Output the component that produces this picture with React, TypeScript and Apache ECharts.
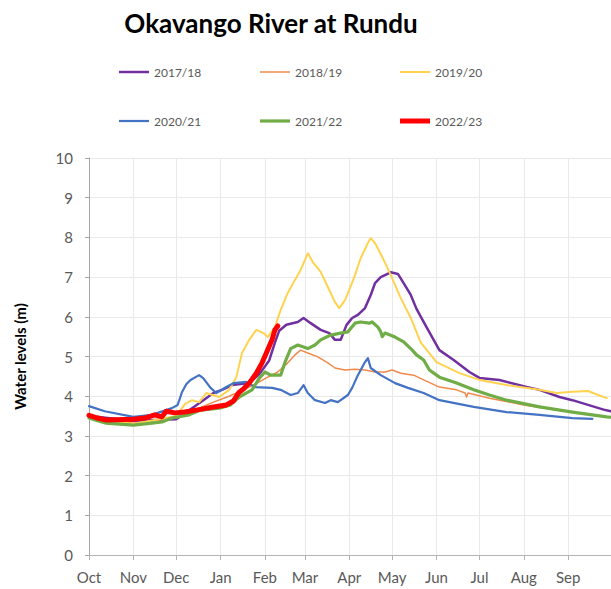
import React, { useEffect, useRef } from "react";
import * as echarts from "echarts";

// ---------- axis definitions ----------
const monthLabels = ["Oct", "Nov", "Dec", "Jan", "Feb", "Mar", "Apr", "May", "Jun", "Jul", "Aug", "Sep"];
const monthLengths = [31, 30, 31, 31, 28, 31, 30, 31, 30, 31, 31, 30];
const yTicks = [0, 1, 2, 3, 4, 5, 6, 7, 8, 9, 10];

const dayCategories: string[] = [];
const monthStartIdx = new Set<number>();
monthLengths.forEach((len, m) => {
  monthStartIdx.add(dayCategories.length);
  for (let d = 1; d <= len; d++) dayCategories.push(`${monthLabels[m]} ${d}`);
});
dayCategories.push("Oct 1*"); // season end boundary

// ---------- series (day of season since 1 Oct, water level m) ----------
const s1718: [number, number][] = [
  [0, 3.5], [31, 3.38], [61, 3.42], [80, 3.9], [87, 4.08], [93, 4.16], [100, 4.28], [112, 4.33],
  [119, 4.55], [126, 4.9], [130, 5.35], [133, 5.65], [138, 5.8], [146, 5.87], [150, 5.97],
  [155, 5.84], [162, 5.67], [168, 5.59], [172, 5.42], [176, 5.42], [180, 5.79], [184, 5.97],
  [188, 6.05], [193, 6.22], [197, 6.55], [200, 6.85], [204, 7.0], [211, 7.12], [216, 7.08],
  [220, 6.85], [225, 6.55], [229, 6.2], [236, 5.74], [245, 5.16], [255, 4.91], [266, 4.61],
  [273, 4.46], [287, 4.41], [306, 4.23], [315, 4.16], [329, 3.98], [338, 3.9], [361, 3.65], [365, 3.62],
];
const s1819: [number, number][] = [
  [0, 3.45], [31, 3.32], [61, 3.45], [77, 3.7], [87, 3.85], [98, 4.0], [112, 4.23], [119, 4.36],
  [125, 4.48], [132, 4.61], [139, 4.84], [144, 5.04], [148, 5.16], [153, 5.09], [160, 4.99],
  [167, 4.84], [172, 4.71], [179, 4.66], [186, 4.68], [193, 4.66], [200, 4.61], [207, 4.61],
  [212, 4.66], [218, 4.58], [227, 4.53], [234, 4.41], [245, 4.23], [257, 4.16], [263, 4.08],
  [264, 3.98], [265, 4.08], [280, 3.95], [304, 3.78], [327, 3.65], [349, 3.55], [362, 3.48],
];
const s1920: [number, number][] = [
  [0, 3.45], [31, 3.3], [61, 3.5], [67, 3.8], [72, 3.9], [77, 3.85], [82, 4.08], [91, 3.98],
  [98, 4.16], [103, 4.48], [107, 5.09], [112, 5.42], [117, 5.67], [122, 5.59], [125, 5.49],
  [130, 5.74], [134, 6.17], [139, 6.6], [144, 6.93], [148, 7.18], [153, 7.6], [157, 7.35],
  [162, 7.13], [167, 6.75], [172, 6.37], [175, 6.22], [179, 6.42], [182, 6.68], [186, 7.05],
  [190, 7.48], [195, 7.86], [197, 7.98], [200, 7.86], [205, 7.51], [211, 7.05], [218, 6.47],
  [225, 5.97], [232, 5.35], [243, 4.86], [259, 4.58], [273, 4.41], [292, 4.28], [315, 4.16],
  [327, 4.08], [338, 4.11], [349, 4.13], [356, 4.03], [362, 3.95],
];
const s2021: [number, number][] = [
  [0, 3.75], [11, 3.62], [31, 3.48], [44, 3.53], [58, 3.7], [62, 3.78], [65, 4.1], [68, 4.3],
  [71, 4.41], [77, 4.53], [80, 4.45], [85, 4.21], [89, 4.08], [96, 4.23], [101, 4.33], [110, 4.36],
  [116, 4.23], [128, 4.21], [134, 4.16], [141, 4.03], [146, 4.08], [150, 4.28], [153, 4.08],
  [158, 3.9], [165, 3.83], [169, 3.9], [174, 3.85], [181, 4.03], [184, 4.21], [188, 4.53],
  [193, 4.86], [195, 4.96], [197, 4.71], [204, 4.53], [214, 4.33], [223, 4.21], [234, 4.08],
  [245, 3.9], [269, 3.73], [292, 3.6], [315, 3.53], [338, 3.45], [352, 3.43],
];
const s2122: [number, number][] = [
  [0, 3.45], [6, 3.38], [12, 3.32], [31, 3.27], [44, 3.32], [51, 3.35], [58, 3.45], [70, 3.53],
  [78, 3.65], [91, 3.7], [99, 3.78], [105, 3.98], [114, 4.16], [119, 4.45], [123, 4.61], [127, 4.53],
  [134, 4.53], [137, 4.85], [141, 5.2], [146, 5.29], [153, 5.2], [158, 5.29], [162, 5.42],
  [169, 5.54], [176, 5.59], [181, 5.62], [186, 5.84], [190, 5.87], [196, 5.84], [198, 5.87],
  [202, 5.74], [204, 5.62], [205, 5.5], [207, 5.59], [214, 5.49], [220, 5.37], [226, 5.16],
  [229, 5.04], [234, 4.91], [238, 4.66], [245, 4.48], [257, 4.33], [269, 4.16], [280, 4.03],
  [292, 3.9], [315, 3.73], [338, 3.6], [362, 3.48], [365, 3.47],
];
const s2223: [number, number][] = [
  [0, 3.52], [6, 3.45], [12, 3.4], [31, 3.42], [39, 3.45], [46, 3.53], [51, 3.48], [54, 3.62],
  [60, 3.58], [67, 3.6], [75, 3.65], [86, 3.72], [96, 3.78], [101, 3.88], [105, 4.1], [108, 4.18],
  [112, 4.33], [117, 4.58], [121, 4.84], [124, 5.09], [128, 5.42], [130, 5.67], [132, 5.77],
];

const seriesDefs = [
  { name: "2017/18", data: s1718, color: "#7030A0", width: 2.5 },
  { name: "2018/19", data: s1819, color: "#F08A4B", width: 1.5 },
  { name: "2019/20", data: s1920, color: "#FFD34F", width: 2 },
  { name: "2020/21", data: s2021, color: "#4472C4", width: 2.2 },
  { name: "2021/22", data: s2122, color: "#70AD47", width: 3.2 },
  { name: "2022/23", data: s2223, color: "#FF0000", width: 5 },
];

const FONT = "Lato, 'Open Sans', sans-serif";

export default function App() {
  const ref = useRef<HTMLDivElement>(null);
  useEffect(() => {
    if (!ref.current) return;
    const chart = echarts.init(ref.current, undefined, { renderer: "svg" });
    const legendCols = [119, 260, 400];
    const legendRows = [66, 115];
    chart.setOption({
      animation: false,
      textStyle: { fontFamily: FONT },
      graphic: [
        {
          type: "text",
          x: 271,
          y: 23,
          style: {
            text: "Okavango River at Rundu",
            textAlign: "center",
            textVerticalAlign: "middle",
            font: `bold 26px ${FONT}`,
            fill: "#000",
          },
        },
      ],
      legend: seriesDefs.map((s, i) => ({
        data: [s.name],
        left: legendCols[i % 3],
        top: legendRows[Math.floor(i / 3)],
        padding: 0,
        icon: "rect",
        itemWidth: 30,
        itemHeight: s.width,
        itemGap: 5,
        selectedMode: false,
        textStyle: { fontSize: 12, color: "#595959", fontFamily: FONT },
      })),
      grid: { left: 89, right: -5, top: 158, bottom: 34, containLabel: false },
      xAxis: {
        type: "category",
        data: dayCategories,
        boundaryGap: false,
        axisLine: { lineStyle: { color: "#B3B3B3", width: 1 } },
        axisTick: {
          show: true,
          length: 5,
          interval: (i: number) => monthStartIdx.has(i),
          lineStyle: { color: "#B3B3B3" },
        },
        axisLabel: {
          interval: (i: number) => monthStartIdx.has(i),
          formatter: (v: string) => v.split(" ")[0],
          color: "#595959",
          fontSize: 15,
          margin: 14,
          fontFamily: FONT,
        },
        splitLine: {
          show: true,
          interval: (i: number) => monthStartIdx.has(i) && i !== 0,
          lineStyle: { color: "#E9E9E9", width: 1 },
        },
      },
      yAxis: {
        type: "value",
        min: yTicks[0],
        max: yTicks[yTicks.length - 1],
        interval: 1,
        name: "Water levels (m)",
        nameLocation: "middle",
        nameGap: 62,
        nameTextStyle: { fontWeight: "bold", fontSize: 15, color: "#000", fontFamily: FONT },
        axisLine: { show: true, lineStyle: { color: "#A6A6A6", width: 1 } },
        axisTick: { show: true, length: 4, lineStyle: { color: "#A6A6A6" } },
        axisLabel: { color: "#595959", fontSize: 15, margin: 16, fontFamily: FONT },
        splitLine: { show: true, lineStyle: { color: "#E9E9E9", width: 1 } },
      },
      series: seriesDefs.map((s) => ({
        name: s.name,
        type: "line",
        data: s.data,
        symbol: "none",
        color: s.color,
        itemStyle: { color: s.color },
        lineStyle: { color: s.color, width: s.width, join: "round", cap: "round" },
        smooth: false,
      })),
    });
    return () => chart.dispose();
  }, []);
  return (
    <div
      ref={ref}
      style={{ position: "absolute", left: 0, top: 0, width: 611, height: 589, overflow: "hidden" }}
    />
  );
}
